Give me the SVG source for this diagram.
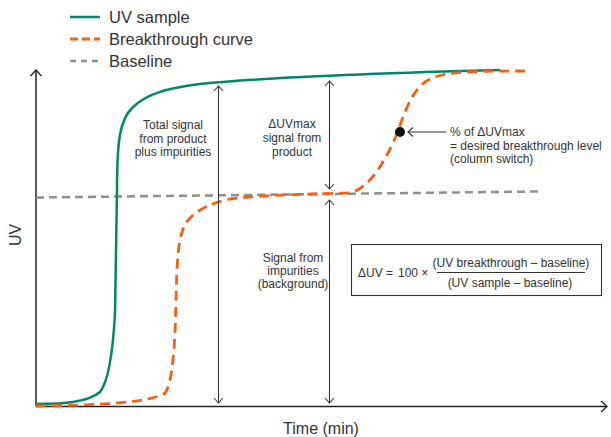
<svg xmlns="http://www.w3.org/2000/svg" width="611" height="437" viewBox="0 0 611 437">
<style>
.t{font-family:"Liberation Sans",Arial,sans-serif;fill:#333;}
.leg{font-size:16.5px;}
.sm{font-size:12px;}
.ax{font-size:16px;}
.green{fill:none;stroke:#00866c;stroke-width:2.5;}
.orange{fill:none;stroke:#fa5f0f;stroke-width:2.8;stroke-dasharray:10 6;}
.gray{fill:none;stroke:#8f8f8f;stroke-width:2.5;stroke-dasharray:8 5;}
.axis{fill:none;stroke:#222;stroke-width:1.5;}
.dim{fill:none;stroke:#333;stroke-width:1.1;}
</style>
<defs>
<marker id="ah" viewBox="-6 -6 8 12" markerWidth="8" markerHeight="12" refX="0" refY="0" orient="auto-start-reverse" markerUnits="userSpaceOnUse">
<path d="M-5,-4.5 L0,0 L-5,4.5" fill="none" stroke="#333" stroke-width="1.1"/>
</marker>
<marker id="axh" viewBox="-8 -7 10 14" markerWidth="10" markerHeight="14" refX="0" refY="0" orient="auto" markerUnits="userSpaceOnUse">
<path d="M-6,-5.5 L0,0 L-6,5.5" fill="none" stroke="#222" stroke-width="1.3"/>
</marker>
</defs>
<rect width="611" height="437" fill="#fff"/>

<g id="legend">
<line x1="70" y1="17" x2="100" y2="17" class="green"/>
<text x="109" y="23" class="t leg">UV sample</text>
<line x1="70" y1="39" x2="100" y2="39" class="orange" style="stroke-dasharray:8 4"/>
<text x="109" y="45" class="t leg">Breakthrough curve</text>
<line x1="70" y1="61" x2="100" y2="61" class="gray" style="stroke-dasharray:6 5"/>
<text x="109" y="67" class="t leg">Baseline</text>
</g>

<g id="axes">
<line x1="36" y1="406.5" x2="36" y2="70" class="axis" marker-end="url(#axh)"/>
<line x1="36" y1="406.5" x2="607" y2="406.5" class="axis" marker-end="url(#axh)"/>
<text x="0" y="0" class="t ax" transform="translate(21,235) rotate(-90)" text-anchor="middle">UV</text>
<text x="321" y="433.5" class="t ax" text-anchor="middle">Time (min)</text>
</g>

<g id="baseline">
<line x1="36" y1="197.5" x2="538" y2="191.5" class="gray"/>
</g>

<g id="uv-sample">
<path class="green" d="M36,404 C65,404 88,402 100,392 C108,382 113,350 115,313 L117,190 C117,140 120,120 132,108 C145,95 165,88 200,84 C260,78 380,73 500,70"/>
</g>

<g id="breakthrough">
<path class="orange" d="M36,406 C100,405 150,403 165,393 C172,385 175,350 176,300 C177,245 180,228 190,218 C198,210 210,203 230,199 C250,196 300,194 347,193 C365,192 380,170 393,143 C403,120 408,95 425,82 C440,72 460,71 525,71"/>
</g>

<g id="connectors">
<line x1="218.5" y1="86" x2="218.5" y2="403" class="dim" marker-start="url(#ah)" marker-end="url(#ah)"/>
<line x1="329.5" y1="81" x2="329.5" y2="189" class="dim" marker-start="url(#ah)" marker-end="url(#ah)"/>
<line x1="329.5" y1="200" x2="329.5" y2="403" class="dim" marker-start="url(#ah)" marker-end="url(#ah)"/>
<line x1="446" y1="132" x2="408" y2="132" class="dim" marker-end="url(#ah)"/>
</g>

<g id="switch-point">
<circle cx="400" cy="132" r="5" fill="#111"/>
<text class="t sm" x="450" y="136">% of ΔUVmax</text>
<text class="t sm" x="450" y="149.5">= desired breakthrough level</text>
<text class="t sm" x="450" y="162.5">(column switch)</text>
</g>

<g id="total-signal" class="t sm" text-anchor="middle">
<text x="173" y="129">Total signal</text>
<text x="173" y="142.5">from product</text>
<text x="173" y="156">plus impurities</text>
</g>

<g id="delta-max" class="t sm" text-anchor="middle">
<text x="292" y="128">ΔUVmax</text>
<text x="292" y="142">signal from</text>
<text x="292" y="155.5">product</text>
</g>

<g id="impurities" class="t sm" text-anchor="middle">
<text x="293" y="262">Signal from</text>
<text x="293" y="275">impurities</text>
<text x="293" y="287.5">(background)</text>
</g>

<g id="formula">
<rect x="351.5" y="244.5" width="250" height="51" fill="none" stroke="#333" stroke-width="1.1"/>
<text class="t sm" x="358" y="277">ΔUV</text>
<text class="t sm" x="386" y="277">=</text>
<text class="t sm" x="398" y="277">100 ×</text>
<line x1="437" y1="272.5" x2="585" y2="272.5" stroke="#333" stroke-width="1"/>
<text class="t sm" x="511" y="267" text-anchor="middle">(UV breakthrough – baseline)</text>
<text class="t sm" x="510" y="287" text-anchor="middle">(UV sample – baseline)</text>
</g>
</svg>
